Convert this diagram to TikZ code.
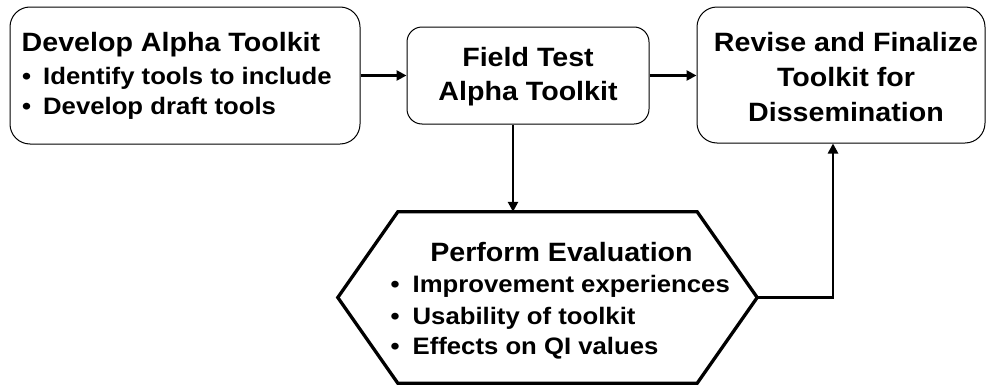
\documentclass[tikz,border=0pt]{standalone}
\usepackage{fontspec}
\setmainfont{Liberation Sans}[FakeStretch=1.08]
\usetikzlibrary{arrows.meta}
\begin{document}
\begin{tikzpicture}[x=1pt,y=-1pt,
  box/.style={draw, line width=1pt, rounded corners=#1, inner sep=0pt},
  box/.default=20pt,
  arr/.style={line width=2.7pt, -{Triangle[length=10pt,width=10pt]}},
  ttl/.style={font=\fontsize{26.5}{30}\selectfont\bfseries, inner sep=0pt},
  itm/.style={font=\fontsize{23.8}{28}\selectfont\bfseries, inner sep=0pt, anchor=base west},
  hexline/.style={line width=3.3pt, line join=miter},
]
\useasboundingbox (0,0) rectangle (987,388);

% boxes
\node[box, minimum width=350pt, minimum height=137pt] (dev) at (185,75.5) {};
\node[box=15pt, minimum width=242pt, minimum height=97pt] (ft) at (528,75.5) {};
\node[box, minimum width=288pt, minimum height=136pt] (rev) at (841,75) {};
\node[minimum width=419pt, minimum height=171pt, inner sep=0pt] (hex) at (547.5,297.5) {};
\draw[hexline] ([xshift=60pt]hex.north west) -- ([xshift=-60pt]hex.north east) -- (hex.east)
  -- ([xshift=-60pt]hex.south east) -- ([xshift=60pt]hex.south west) -- (hex.west) -- cycle;

% texts
\node[ttl, anchor=base west] (devT) at (21.5,51) {Develop Alpha Toolkit};
\node[itm] (dev1) at (22,84.3) {\makebox[21pt][l]{•}Identify tools to include};
\node[itm] (dev2) at (22,114.3) {\makebox[21pt][l]{•}Develop draft tools};

\node[ttl, anchor=base] (ft1) at (528,66.7) {Field Test};
\node[ttl, anchor=base] (ft2) at (528,100.7) {Alpha Toolkit};

\node[ttl, anchor=base] (rev1) at (846,51.7) {Revise and Finalize};
\node[ttl, anchor=base] (rev2) at (846,86.7) {Toolkit for};
\node[ttl, anchor=base] (rev3) at (846,121.7) {Dissemination};

\node[ttl, anchor=base] (hexT) at (561.5,261) {Perform Evaluation};
\node[itm] (hex1) at (390.5,292.3) {\makebox[22pt][l]{•}Improvement experiences};
\node[itm] (hex2) at (390.5,324.3) {\makebox[22pt][l]{•}Usability of toolkit};
\node[itm] (hex3) at (390.5,354.3) {\makebox[22pt][l]{•}Effects on QI values};

% connectors
\coordinate (dn) at (513,0);
\coordinate (up) at (833,0);
\draw[arr] (dev.east) -- (ft.west);
\draw[arr] (ft.east) -- (ft.east -| rev.west);
\draw[arr] (ft.south -| dn) -- (hex.north -| dn);
\draw[arr] (hex.east) -| (rev.south -| up);
\end{tikzpicture}
\end{document}
